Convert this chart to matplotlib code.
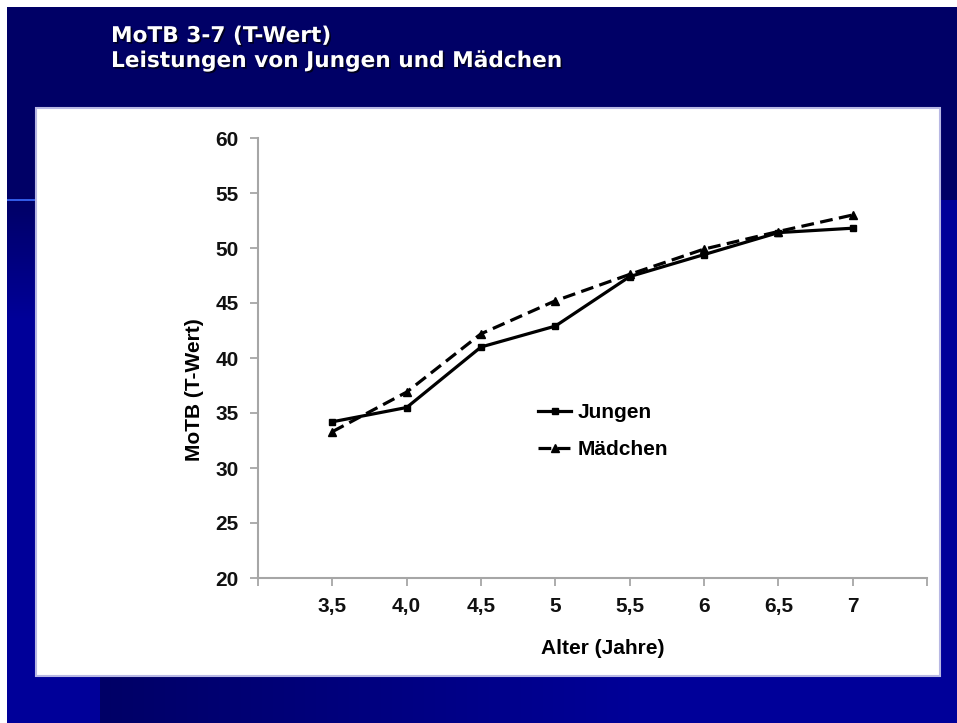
import numpy as np
import matplotlib
matplotlib.use("Agg")
import matplotlib.pyplot as plt
import matplotlib.patheffects as pe
from matplotlib.patches import Rectangle

# --- data -------------------------------------------------------------
age_labels = ["3,5", "4,0", "4,5", "5", "5,5", "6", "6,5", "7"]
jungen = [34.2, 35.5, 41.0, 42.9, 47.4, 49.4, 51.4, 51.8]
maedchen = [33.3, 36.9, 42.2, 45.2, 47.6, 49.9, 51.5, 53.0]
y_ticks = [20, 25, 30, 35, 40, 45, 50, 55, 60]

title_lines = ["MoTB 3-7 (T-Wert)", "Leistungen von Jungen und Mädchen"]

# --- figure & slide background ---------------------------------------
W, H = 957, 723
fig = plt.figure(figsize=(W / 100, H / 100), dpi=100)

navy = np.array([0, 0, 102]) / 255
blue = np.array([0, 0, 153]) / 255
img = np.tile(navy, (H, W, 1))

rows = np.arange(H)
cols = np.arange(W)
# left column brightens below the title band
t_left = np.clip((rows - 200) / 120, 0, 1)[:, None, None]
img[:, 7:100] = navy + (blue - navy) * t_left
# right edge strip
img[200:, 940:] = blue
# bottom band, dark on the left and bright on the right
t_bot = np.clip((cols - 100) / 550, 0, 1)[None, :, None]
band = navy + (blue - navy) * t_bot
img[676:, 100:] = band[:, 100:]
# thin highlight line on the left edge
img[199:201, 7:36] = np.array([50, 90, 230]) / 255
# white outer border (top and left)
img[:7, :] = 1.0
img[:, :7] = 1.0

bg = fig.add_axes([0, 0, 1, 1], zorder=0)
bg.imshow(img, extent=(0, W, H, 0), aspect="auto", interpolation="bilinear")
bg.set_xlim(0, W)
bg.set_ylim(H, 0)
bg.axis("off")

# white chart panel
bg.add_patch(Rectangle((36, 108), 904, 568, facecolor="white",
                       edgecolor="#b8b8e4", linewidth=1.5, zorder=2))

# slide title
shadow = [pe.withSimplePatchShadow(offset=(1.2, -1.2), shadow_rgbFace="black", alpha=0.7)]
for i, line in enumerate(title_lines):
    bg.text(111, 42 + 25 * i, line, color="white", fontsize=15.6, fontweight="bold",
            family="DejaVu Sans", ha="left", va="baseline", path_effects=shadow, zorder=3)

# --- line chart -------------------------------------------------------
plt.rcParams["font.family"] = ["Liberation Sans", "DejaVu Sans"]

x0, x1, ytop, ybot = 258, 927, 138, 578
ax = fig.add_axes([x0 / W, 1 - ybot / H, (x1 - x0) / W, (ybot - ytop) / H], zorder=3)
ax.patch.set_visible(False)

xpos = np.arange(1, len(age_labels) + 1)
ax.plot(xpos, jungen, color="black", lw=2.3, marker="s", markersize=5,
        label="Jungen", solid_joinstyle="miter")
ax.plot(xpos, maedchen, color="black", lw=2.3, marker="^", markersize=6,
        dashes=(4, 2), label="Mädchen")

ax.set_xlim(0, len(age_labels) + 1)
ax.set_ylim(20, 60)
ax.set_yticks(y_ticks)
ax.set_yticklabels([str(v) for v in y_ticks])
ax.set_xticks(np.arange(0, len(age_labels) + 2))
ax.set_xticklabels([""] + age_labels + [""])

for side in ("top", "right"):
    ax.spines[side].set_visible(False)
for side in ("left", "bottom"):
    ax.spines[side].set_color("#a6a6a6")
    ax.spines[side].set_linewidth(1.5)

ax.tick_params(axis="y", direction="out", length=6, width=1.3, color="#a6a6a6",
               pad=8, labelsize=15)
ax.tick_params(axis="x", direction="out", length=6, width=1.3, color="#a6a6a6",
               pad=8, labelsize=15)
for lab in ax.get_xticklabels() + ax.get_yticklabels():
    lab.set_fontweight("bold")
    lab.set_color("#111111")

ax.set_xlabel("Alter (Jahre)", fontsize=15, fontweight="bold", va="center")
ax.xaxis.set_label_coords((603 - x0) / (x1 - x0), -(649 - ybot) / (ybot - ytop))
ax.set_ylabel("MoTB (T-Wert)", fontsize=15, fontweight="bold", va="center")
ax.yaxis.set_label_coords((194 - x0) / (x1 - x0), (ybot - 390) / (ybot - ytop))

leg = ax.legend(loc="center left", frameon=False,
                bbox_to_anchor=((538 - x0) / (x1 - x0), (ybot - 431) / (ybot - ytop)),
                handlelength=1.6, handletextpad=0.3, labelspacing=0.85,
                borderpad=0, borderaxespad=0, prop={"size": 15, "weight": "bold"})

fig.savefig("out.png", dpi=100)
